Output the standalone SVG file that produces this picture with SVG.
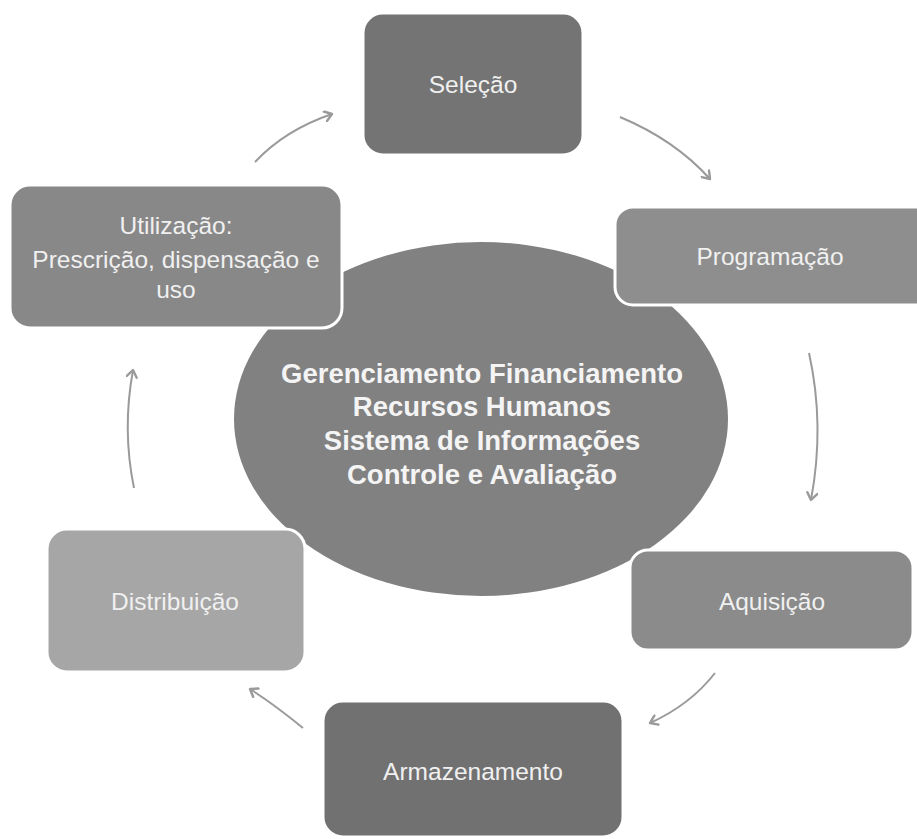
<svg xmlns="http://www.w3.org/2000/svg" width="917" height="839" viewBox="0 0 917 839">
<defs>
<marker id="arr" viewBox="0 0 12 12" refX="9" refY="6" markerWidth="12" markerHeight="12" markerUnits="userSpaceOnUse" orient="auto">
<path d="M2,1 L9,6 L2,11" fill="none" stroke="#9a9a9a" stroke-width="2.4" stroke-linecap="round" stroke-linejoin="round"/>
</marker>
</defs>
<style>
.box{stroke:#ffffff;stroke-width:3}
.lbl{font-family:"Liberation Sans",Arial,sans-serif;font-size:24.5px;fill:#f0f0f0;text-anchor:middle}
.ctr{font-family:"Liberation Sans",Arial,sans-serif;font-size:27.5px;font-weight:bold;fill:#f4f4f4;text-anchor:middle}
.conn{fill:none;stroke:#9a9a9a;stroke-width:2;marker-end:url(#arr)}
</style>
<rect width="917" height="839" fill="#ffffff"/>
<g id="center">
<ellipse cx="481" cy="419" rx="247" ry="177" fill="#818181"/>
<text class="ctr" x="482" y="383">Gerenciamento Financiamento</text>
<text class="ctr" x="482" y="416">Recursos Humanos</text>
<text class="ctr" x="482" y="450">Sistema de Informações</text>
<text class="ctr" x="482" y="484">Controle e Avaliação</text>
</g>
<g id="selecao">
<rect class="box" x="363" y="13" width="220" height="142" rx="20" fill="#747474"/>
<text class="lbl" x="473" y="93">Seleção</text>
</g>
<g id="programacao">
<rect class="box" x="615" y="207" width="320" height="98" rx="18" fill="#8e8e8e"/>
<text class="lbl" x="770" y="265">Programação</text>
</g>
<g id="aquisicao">
<rect class="box" x="630" y="550" width="283" height="100" rx="18" fill="#8b8b8b"/>
<text class="lbl" x="772" y="610">Aquisição</text>
</g>
<g id="armazenamento">
<rect class="box" x="323" y="701" width="300" height="136" rx="20" fill="#717171"/>
<text class="lbl" x="473" y="780">Armazenamento</text>
</g>
<g id="distribuicao">
<rect class="box" x="47" y="529" width="258" height="143" rx="20" fill="#a6a6a6"/>
<text class="lbl" x="175" y="610">Distribuição</text>
</g>
<g id="utilizacao">
<rect class="box" x="10" y="185" width="332" height="143" rx="20" fill="#888888"/>
<text class="lbl" x="176" y="234">Utilização:</text>
<text class="lbl" x="176" y="268">Prescrição, dispensação e</text>
<text class="lbl" x="176" y="298">uso</text>
</g>
<g id="connectors">
<path class="conn" d="M255,162 Q285,130 332,114"/>
<path class="conn" d="M620,117 Q675,140 710,179"/>
<path class="conn" d="M809,353 Q825,425 811,500"/>
<path class="conn" d="M715,673 Q690,705 650,723"/>
<path class="conn" d="M303,728 Q275,705 250,689"/>
<path class="conn" d="M134,488 Q122,430 133,370"/>
</g>
</svg>
